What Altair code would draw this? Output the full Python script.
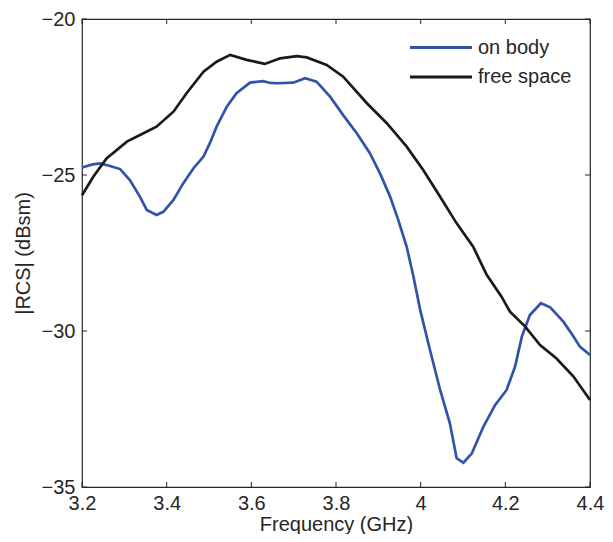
import altair as alt
import pandas as pd

freq_on = [3.20, 3.225, 3.243, 3.266, 3.29, 3.313, 3.337, 3.353, 3.376, 3.392, 3.416, 3.439,
           3.463, 3.487, 3.502, 3.518, 3.542, 3.565, 3.597, 3.628, 3.645, 3.660, 3.699, 3.727,
           3.754, 3.786, 3.817, 3.849, 3.880, 3.904, 3.928, 3.947, 3.967, 3.983, 3.999, 4.022,
           4.046, 4.069, 4.085, 4.101, 4.121, 4.148, 4.176, 4.203, 4.223, 4.239, 4.258, 4.284,
           4.306, 4.337, 4.361, 4.376, 4.40]
rcs_on = [-24.76, -24.66, -24.63, -24.71, -24.81, -25.16, -25.70, -26.12, -26.28, -26.18, -25.80, -25.27,
          -24.79, -24.41, -23.98, -23.45, -22.81, -22.38, -22.04, -21.99, -22.05, -22.06, -22.04, -21.90,
          -22.01, -22.49, -23.08, -23.66, -24.30, -24.95, -25.70, -26.44, -27.30, -28.26, -29.33, -30.61,
          -31.89, -32.96, -34.08, -34.22, -33.92, -33.07, -32.37, -31.89, -31.14, -30.18, -29.49, -29.11,
          -29.24, -29.70, -30.18, -30.50, -30.77]

freq_free = [3.20, 3.227, 3.258, 3.306, 3.337, 3.376, 3.416, 3.447, 3.487, 3.518, 3.550, 3.589,
             3.632, 3.668, 3.707, 3.731, 3.778, 3.817, 3.873, 3.920, 3.967, 4.006, 4.046, 4.085,
             4.124, 4.156, 4.191, 4.211, 4.247, 4.282, 4.321, 4.361, 4.40]
rcs_free = [-25.65, -25.05, -24.47, -23.93, -23.72, -23.45, -22.97, -22.38, -21.69, -21.37, -21.15, -21.31,
            -21.44, -21.26, -21.19, -21.23, -21.47, -21.85, -22.70, -23.34, -24.09, -24.84, -25.70, -26.55,
            -27.30, -28.20, -28.90, -29.38, -29.86, -30.45, -30.88, -31.46, -32.21]

series = ["on body", "free space"]
colors = ["#3253a9", "#1a1a1a"]
x_ticks = [3.2, 3.4, 3.6, 3.8, 4.0, 4.2, 4.4]
y_ticks = [-35, -30, -25, -20]

W, H = 508, 468
FONT = "Liberation Sans"
TXT = "#262626"

df = pd.concat([
    pd.DataFrame({"f": freq_on, "rcs": rcs_on, "s": series[0]}),
    pd.DataFrame({"f": freq_free, "rcs": rcs_free, "s": series[1]}),
])
dx = pd.DataFrame({"t": x_ticks})
dy = pd.DataFrame({"t": y_ticks})

xs = alt.Scale(domain=[3.2, 4.4], nice=False, zero=False)
ys = alt.Scale(domain=[-35, -20], nice=False, zero=False)
cs = alt.Scale(domain=series, range=colors)

lines = alt.Chart(df).mark_line(strokeWidth=2.7).encode(
    x=alt.X("f:Q", scale=xs, title="Frequency (GHz)",
            axis=alt.Axis(values=x_ticks, format="~g", labelFlush=False,
                          titleBaseline="alphabetic", titleY=43, titleFontSize=20)),
    y=alt.Y("rcs:Q", scale=ys, title="|RCS| (dBsm)",
            axis=alt.Axis(values=y_ticks, format="d")),
    color=alt.Color("s:N", scale=cs, sort=series, legend=None),
)

tb = alt.Chart(dx).mark_rule(color=TXT, strokeWidth=1).encode(
    x=alt.X("t:Q", scale=xs), y=alt.value(H), y2=alt.value(H - 5))
tt = alt.Chart(dx).mark_rule(color=TXT, strokeWidth=1).encode(
    x=alt.X("t:Q", scale=xs), y=alt.value(0), y2=alt.value(5))
tl = alt.Chart(dy).mark_rule(color=TXT, strokeWidth=1).encode(
    y=alt.Y("t:Q", scale=ys), x=alt.value(0), x2=alt.value(5))
tr = alt.Chart(dy).mark_rule(color=TXT, strokeWidth=1).encode(
    y=alt.Y("t:Q", scale=ys), x=alt.value(W), x2=alt.value(W - 5))

legend_layers = []
for i, s in enumerate(series):
    dl = pd.DataFrame({"s": [s]})
    yy = 28.5 + 29.5 * i
    legend_layers.append(
        alt.Chart(dl).mark_rule(strokeWidth=3).encode(
            x=alt.value(328), x2=alt.value(390), y=alt.value(yy),
            color=alt.Color("s:N", scale=cs, legend=None)))
    legend_layers.append(
        alt.Chart(dl).mark_text(align="left", baseline="middle", font=FONT,
                                fontSize=20, color=TXT).encode(
            x=alt.value(396), y=alt.value(yy), text="s:N"))

chart = alt.layer(lines, tb, tt, tl, tr, *legend_layers).properties(
    width=W, height=H,
    autosize=alt.AutoSizeParams(type="none"),
    padding={"left": 74, "top": 11, "right": 15, "bottom": 47},
).configure_view(
    stroke=TXT, strokeWidth=1.2
).configure_axis(
    grid=False, ticks=False, domain=False,
    labelFont=FONT, titleFont=FONT,
    labelFontSize=20, titleFontSize=20, labelColor=TXT, titleColor=TXT,
    titleFontWeight="normal",
).configure_axisX(
    labelPadding=6
).configure_axisY(
    titlePadding=8, labelPadding=7
)

chart.save("out.html", embed_options={"renderer": "svg", "actions": False})
